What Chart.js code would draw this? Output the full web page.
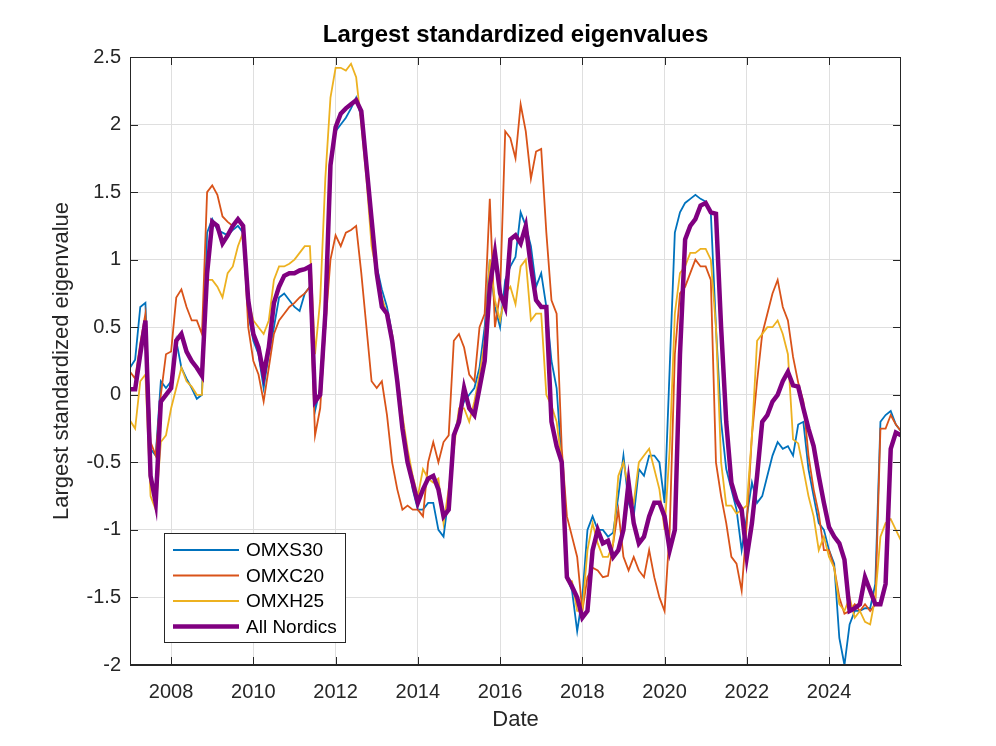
<!DOCTYPE html>
<html>
<head>
<meta charset="utf-8">
<title>Largest standardized eigenvalues</title>
<script src="https://cdn.jsdelivr.net/npm/chart.js@4.4.0/dist/chart.umd.min.js"></script>
<style>
  body { margin: 0; background: #fff; }
  #wrap { width: 996px; height: 746px; }
</style>
</head>
<body>
<div id="wrap"><canvas id="eig" width="996" height="746"></canvas></div>
<script>
// Sampling grid: every 1.5 months from Jan 2007
const startYear = 2007;
const stepYears = 0.125;

// Tick labels
const xTicks = [2008, 2010, 2012, 2014, 2016, 2018, 2020, 2022, 2024];
const yTicks = [-2, -1.5, -1, -0.5, 0, 0.5, 1, 1.5, 2, 2.5];

const chartTitle = 'Largest standardized eigenvalues';

// Series values
const omxs30 = [
  0.2, 0.26, 0.65, 0.68, -0.4, -0.45, 0.1, 0.05, 0.1, 0.4,
  0.2, 0.12, 0.05, -0.03, 0.0, 1.2, 1.3, 1.22, 1.2, 1.18,
  1.22, 1.25, 1.2, 0.6, 0.4, 0.3, 0.05, 0.3, 0.5, 0.72,
  0.75, 0.7, 0.65, 0.62, 0.75, 0.8, -0.12, 0.05, 0.5, 1.7,
  1.95, 2.0, 2.05, 2.12, 2.2, 2.05, 1.65, 1.2, 0.95, 0.78,
  0.65, 0.45, 0.1, -0.2, -0.45, -0.7, -0.85, -0.85, -0.8, -0.8,
  -1.0, -1.05, -0.75, -0.3, -0.15, -0.05, 0.0, 0.05, 0.2, 0.5,
  1.0, 0.65, 0.5, 0.85, 0.95, 1.02, 1.35, 1.25, 1.1, 0.8,
  0.9, 0.65, 0.25, 0.05, -0.5, -1.35, -1.45, -1.75, -1.5, -1.0,
  -0.9, -1.0, -1.0, -1.05, -1.02, -0.75, -0.45, -0.8, -0.9, -0.55,
  -0.6, -0.45, -0.45, -0.5, -0.8, 0.2, 1.2, 1.35, 1.42, 1.45,
  1.48, 1.45, 1.43, 1.35, 0.5, -0.2, -0.55, -0.7, -0.85, -1.15,
  -0.9, -0.65, -0.8, -0.75, -0.6, -0.45, -0.35, -0.4, -0.38, -0.45,
  -0.22, -0.2, -0.55, -0.75, -0.95, -1.0, -1.15, -1.25, -1.8, -2.0,
  -1.7, -1.6, -1.6, -1.58, -1.58, -1.4, -0.2, -0.15, -0.12, -0.22,
  -0.27
];

const omxc20 = [
  0.17, 0.12, 0.38, 0.6, -0.35, -0.45, 0.0, 0.3, 0.32, 0.72,
  0.78, 0.65, 0.55, 0.55, 0.45, 1.5, 1.55, 1.48, 1.32, 1.28,
  1.25, 1.3, 1.25, 0.5, 0.25, 0.15, -0.05, 0.2, 0.45, 0.55,
  0.6, 0.65, 0.68, 0.72, 0.75, 0.8, -0.3, -0.1, 0.5, 1.0,
  1.18, 1.1, 1.2, 1.22, 1.25, 0.9, 0.5, 0.1, 0.05, 0.1,
  -0.15, -0.5, -0.7, -0.85, -0.82, -0.85, -0.85, -0.9, -0.5, -0.35,
  -0.5, -0.35, -0.3, 0.4, 0.45, 0.35, 0.15, 0.1, 0.5, 0.6,
  1.45, 0.5, 0.75, 1.95, 1.9, 1.75, 2.15, 1.95, 1.6, 1.8,
  1.82, 1.2, 0.7, 0.6, -0.4, -0.9, -1.05, -1.2, -1.6, -1.35,
  -1.28, -1.3, -1.35, -1.34, -1.1, -0.85, -1.2, -1.3, -1.2, -1.3,
  -1.35, -1.15, -1.35, -1.5, -1.6, -1.0, 0.3, 0.75, 0.8, 0.9,
  1.0, 0.95, 0.95, 0.85, -0.5, -0.75, -0.95, -1.2, -1.25, -1.45,
  -0.95, -0.3, 0.1, 0.45, 0.6, 0.75, 0.85, 0.65, 0.55, 0.28,
  0.09, -0.05, -0.45, -0.7, -0.88, -1.15, -1.15, -1.28, -1.5, -1.62,
  -1.6, -1.55, -1.6, -1.55, -1.6, -1.55, -0.25, -0.25, -0.15, -0.22,
  -0.27
];

const omxh25 = [
  -0.19, -0.25, 0.1, 0.15, -0.75, -0.85, -0.35, -0.3, -0.1, 0.05,
  0.2, 0.1, 0.06, 0.0, 0.0, 0.85, 0.85, 0.8, 0.72, 0.9,
  0.95, 1.1, 1.2, 0.7, 0.55, 0.5, 0.45, 0.55, 0.85, 0.95,
  0.95, 0.97, 1.0, 1.05, 1.1, 1.1, 0.3, 0.7, 1.6, 2.2,
  2.42, 2.42, 2.4, 2.45, 2.35, 2.0, 1.6, 1.1, 0.9, 0.72,
  0.6, 0.45, 0.15, -0.15, -0.4, -0.6, -0.75, -0.55, -0.62, -0.65,
  -0.62, -0.95, -0.7, -0.4, -0.1, -0.1, -0.2, -0.05, 0.15, 0.4,
  1.0, 0.7, 0.55, 0.75, 0.8, 0.67, 0.95, 1.0, 0.55, 0.6,
  0.6, 0.0, -0.08, -0.2, -0.5, -1.37, -1.38, -1.6, -1.6, -1.15,
  -0.95, -1.1, -1.2, -1.2, -1.1, -0.6, -0.5, -0.7, -0.8, -0.5,
  -0.45, -0.4, -0.55, -0.7, -1.0, -0.4, 0.6, 0.9, 0.95, 1.05,
  1.05, 1.08, 1.08, 1.0, 0.5, -0.5, -0.82, -0.82, -0.88, -0.85,
  -0.82, -0.3, 0.4, 0.45, 0.5, 0.5, 0.55, 0.45, 0.3, -0.33,
  -0.36, -0.55, -0.75, -0.9, -1.15, -1.05, -1.2, -1.28, -1.55, -1.6,
  -1.5, -1.65, -1.6, -1.68, -1.7, -1.5, -1.05, -0.95, -0.92, -1.0,
  -1.08
];

const allNordics = [
  0.04, 0.04, 0.3, 0.55, -0.6, -0.8, -0.05, 0.0, 0.05, 0.4,
  0.45, 0.32, 0.25, 0.2, 0.14, 0.9, 1.28, 1.25, 1.12, 1.18,
  1.25, 1.3, 1.25, 0.7, 0.45, 0.35, 0.15, 0.35, 0.68, 0.8,
  0.88, 0.9, 0.9, 0.92, 0.93, 0.95, -0.05, 0.0, 0.6, 1.7,
  1.98, 2.08, 2.12, 2.15, 2.18, 2.1, 1.7, 1.3, 0.9, 0.65,
  0.6, 0.4, 0.1, -0.25, -0.5, -0.65, -0.8, -0.7, -0.62, -0.6,
  -0.7, -0.9, -0.85, -0.3, -0.2, 0.05, -0.1, -0.15, 0.05, 0.25,
  0.8, 1.05, 0.75, 0.65, 1.15, 1.18, 1.12, 1.25, 0.95, 0.7,
  0.65, 0.65, -0.2, -0.38, -0.5, -1.35, -1.42, -1.5, -1.65, -1.6,
  -1.15, -1.0, -1.1, -1.08, -1.2, -1.15, -1.0, -0.65, -0.95, -1.1,
  -1.05, -0.9, -0.8, -0.8, -0.9, -1.15, -1.0, 0.3, 1.15, 1.25,
  1.3, 1.4, 1.42, 1.35, 1.34, 0.5, -0.2, -0.65, -0.78, -0.85,
  -1.2, -0.95, -0.6, -0.2, -0.15, -0.05, 0.0, 0.1, 0.17, 0.07,
  0.06, -0.1, -0.25, -0.38, -0.6, -0.8, -0.98, -1.05, -1.1, -1.22,
  -1.6, -1.58, -1.55, -1.35, -1.45, -1.55, -1.55, -1.4, -0.4, -0.28,
  -0.3
];

// Decimal-year dates for each sample
const dates = omxs30.map((_, i) => startYear + i * stepYears);

const FONT = "'Liberation Sans', Arial, Helvetica, sans-serif";
const AXIS_COLOR = '#262626';
Chart.defaults.font.family = FONT;

const toPoints = (values) => values.map((v, i) => ({ x: dates[i], y: v }));

// Title over the axes, box, inward tick marks and the legend inside the plot
const framePlugin = {
  id: 'frame',
  afterDraw(chart) {
    const { ctx, chartArea: a, scales } = chart;
    const tickLen = 8;
    ctx.save();

    // MATLAB centres the title over the axes, not the figure
    ctx.fillStyle = '#000';
    ctx.font = 'bold 24px ' + FONT;
    ctx.textAlign = 'center';
    ctx.textBaseline = 'middle';
    ctx.fillText(chartTitle, (a.left + a.right) / 2, 35);

    ctx.strokeStyle = AXIS_COLOR;
    ctx.lineWidth = 1;
    ctx.strokeRect(a.left + 0.5, a.top + 0.5, a.right - a.left - 1, a.bottom - a.top - 1);

    ctx.beginPath();
    xTicks.forEach((v) => {
      const px = Math.round(scales.x.getPixelForValue(v)) + 0.5;
      ctx.moveTo(px, a.bottom);
      ctx.lineTo(px, a.bottom - tickLen);
      ctx.moveTo(px, a.top);
      ctx.lineTo(px, a.top + tickLen);
    });
    yTicks.forEach((v) => {
      const py = Math.round(scales.y.getPixelForValue(v)) + 0.5;
      ctx.moveTo(a.left, py);
      ctx.lineTo(a.left + tickLen, py);
      ctx.moveTo(a.right, py);
      ctx.lineTo(a.right - tickLen, py);
    });
    ctx.stroke();

    // Legend box
    const bx = a.left + 34;
    const by = a.bottom - 132;
    const bw = 181;
    const bh = 109;
    ctx.fillStyle = '#fff';
    ctx.fillRect(bx, by, bw, bh);
    ctx.strokeStyle = AXIS_COLOR;
    ctx.lineWidth = 1;
    ctx.strokeRect(bx + 0.5, by + 0.5, bw, bh);

    ctx.font = '19px ' + FONT;
    ctx.textBaseline = 'middle';
    ctx.textAlign = 'left';
    chart.data.datasets.forEach((ds, i) => {
      const ly = by + 17 + i * 25.5;
      ctx.strokeStyle = ds.borderColor;
      ctx.lineWidth = ds.borderWidth;
      ctx.beginPath();
      ctx.moveTo(bx + 9, ly);
      ctx.lineTo(bx + 75, ly);
      ctx.stroke();
      ctx.fillStyle = '#000';
      ctx.fillText(ds.label, bx + 82, ly + 1);
    });
    ctx.restore();
  }
};

new Chart(document.getElementById('eig'), {
  type: 'line',
  data: {
    datasets: [
      { label: 'OMXS30', data: toPoints(omxs30), borderColor: '#0072BD', borderWidth: 1.8, order: 3 },
      { label: 'OMXC20', data: toPoints(omxc20), borderColor: '#D95319', borderWidth: 1.8, order: 2 },
      { label: 'OMXH25', data: toPoints(omxh25), borderColor: '#EDB120', borderWidth: 1.8, order: 1 },
      { label: 'All Nordics', data: toPoints(allNordics), borderColor: '#800080', borderWidth: 4.5, order: 0 },
    ],
  },
  options: {
    responsive: false,
    animation: false,
    devicePixelRatio: 1,
    elements: { point: { radius: 0 }, line: { tension: 0 } },
    layout: { padding: { left: 45, right: 95, top: 57, bottom: 9 } },
    plugins: {
      legend: { display: false },
      tooltip: { enabled: false },
      title: { display: false },
    },
    scales: {
      x: {
        type: 'linear',
        min: 2007,
        max: 2025.75,
        afterBuildTicks: (axis) => { axis.ticks = xTicks.map((v) => ({ value: v })); },
        afterFit: (scale) => { scale.height = 72; },
        ticks: { color: AXIS_COLOR, font: { size: 20 }, padding: 15, maxRotation: 0, autoSkip: false, callback: (v) => String(v) },
        grid: { color: '#dfdfdf', drawTicks: false },
        border: { color: AXIS_COLOR },
        title: { display: true, text: 'Date', color: AXIS_COLOR, font: { size: 22 }, padding: { top: 0, bottom: 4 } },
      },
      y: {
        type: 'linear',
        min: -2,
        max: 2.5,
        afterBuildTicks: (axis) => { axis.ticks = yTicks.map((v) => ({ value: v })); },
        afterFit: (scale) => { scale.width = 85; },
        ticks: { color: AXIS_COLOR, font: { size: 20 }, padding: 9, callback: (v) => String(v) },
        grid: { color: '#dfdfdf', drawTicks: false },
        border: { color: AXIS_COLOR },
        title: { display: true, text: 'Largest standardized eigenvalue', color: AXIS_COLOR, font: { size: 22 }, padding: { top: 4, bottom: 0 } },
      },
    },
  },
  plugins: [framePlugin],
});
</script>
</body>
</html>
